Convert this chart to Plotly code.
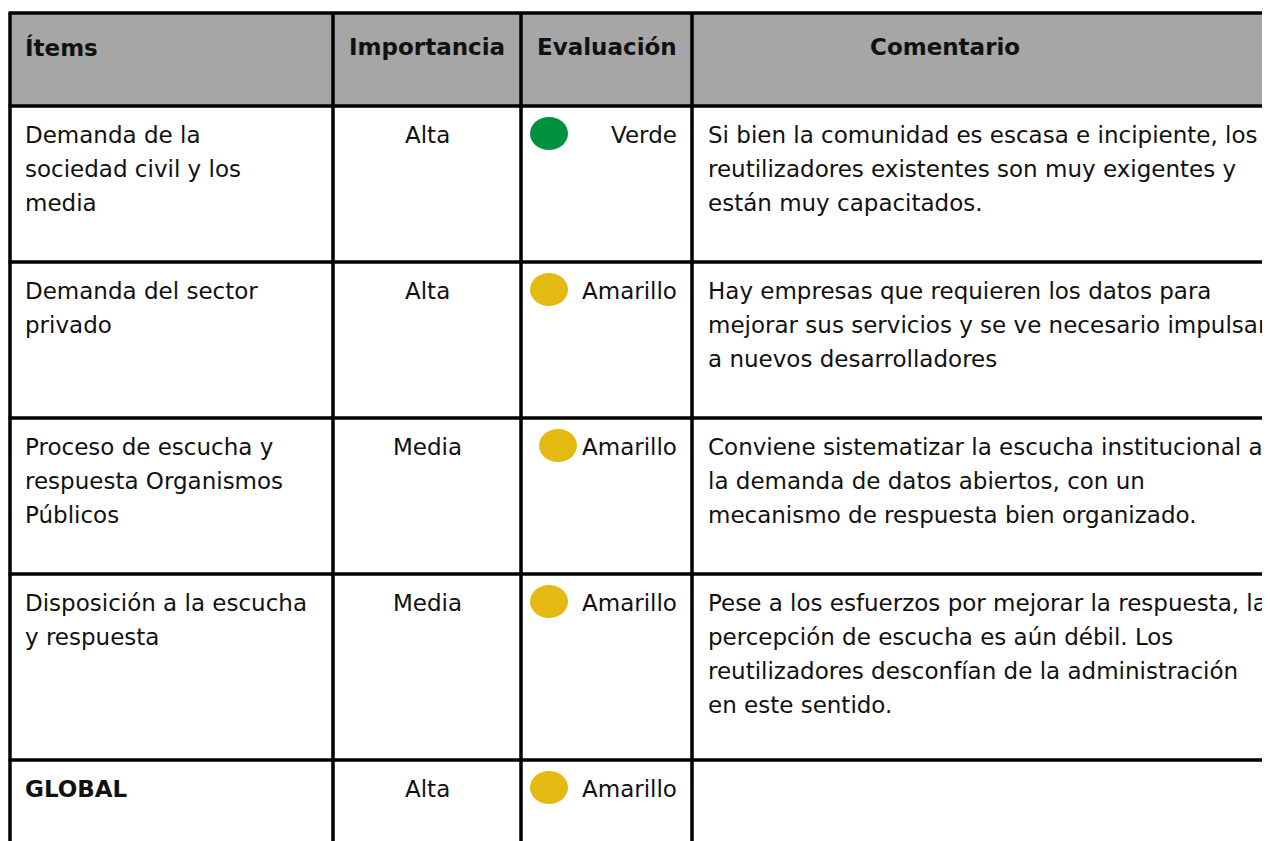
import plotly.graph_objects as go

# ---- data ----
headers = ["Ítems", "Importancia", "Evaluación", "Comentario"]
items = [
    ["Demanda de la", "sociedad civil y los", "media"],
    ["Demanda del sector", "privado"],
    ["Proceso de escucha y", "respuesta Organismos", "Públicos"],
    ["Disposición a la escucha", "y respuesta"],
    ["GLOBAL"],
]
importancia = ["Alta", "Alta", "Media", "Media", "Alta"]
evaluacion = ["Verde", "Amarillo", "Amarillo", "Amarillo", "Amarillo"]
comentarios = [
    ["Si bien la comunidad es escasa e incipiente, los",
     "reutilizadores existentes son muy exigentes y",
     "están muy capacitados."],
    ["Hay empresas que requieren los datos para",
     "mejorar sus servicios y se ve necesario impulsar",
     "a nuevos desarrolladores"],
    ["Conviene sistematizar la escucha institucional a",
     "la demanda de datos abiertos, con un",
     "mecanismo de respuesta bien organizado."],
    ["Pese a los esfuerzos por mejorar la respuesta, la",
     "percepción de escucha es aún débil. Los",
     "reutilizadores desconfían de la administración",
     "en este sentido."],
    [],
]
eval_colors = {"Verde": "#00913F", "Amarillo": "#E4BA12"}

# ---- layout geometry ----
W, H = 1270, 841
OFF = 8  # page body margin compensation
col_edges = [10, 333, 521, 692, 1290]
row_edges = [13, 106, 262, 418, 574, 760, 900]
oval_dx = [0, 0, 9, 0, 0]
FONT = "DejaVu Sans"
FS = 23
LINE = 34
TXT = "#111111"

fig = go.Figure()
fig.add_trace(go.Scatter(x=[OFF, W], y=[OFF, H], mode="markers",
                         marker=dict(opacity=0), hoverinfo="skip", showlegend=False))

shapes = []
shapes.append(dict(type="rect", xref="x", yref="y", x0=col_edges[0], x1=col_edges[-1],
                   y0=row_edges[0], y1=row_edges[1], fillcolor="#A6A6A6",
                   line=dict(width=0), layer="below"))
for y in row_edges[:-1]:
    shapes.append(dict(type="line", xref="x", yref="y", x0=col_edges[0] - 1.5,
                       x1=col_edges[-1], y0=y, y1=y, line=dict(color="black", width=3.5)))
for x in col_edges[:-1]:
    shapes.append(dict(type="line", xref="x", yref="y", x0=x, x1=x,
                       y0=row_edges[0], y1=row_edges[-1], line=dict(color="black", width=3.5)))

annotations = []
def txt(x, y, s, anchor, bold=False):
    annotations.append(dict(x=x, y=y, xref="x", yref="y", text=(f"<b>{s}</b>" if bold else s),
                            showarrow=False, xanchor=anchor, yanchor="middle",
                            font=dict(family=FONT, size=FS, color=TXT)))

hy = row_edges[0] + 34
txt(col_edges[0] + 13, hy, headers[0], "left", True)
txt((col_edges[1] + col_edges[2]) / 2, hy, headers[1], "center", True)
txt((col_edges[2] + col_edges[3]) / 2, hy, headers[2], "center", True)
txt(945, hy, headers[3], "center", True)

for r in range(len(items)):
    top = row_edges[r + 1]
    y0 = top + 29
    bold = items[r][0] == "GLOBAL"
    for k, line in enumerate(items[r]):
        txt(col_edges[0] + 13, y0 + k * LINE, line, "left", bold)
    txt((col_edges[1] + col_edges[2]) / 2, y0, importancia[r], "center")
    txt(col_edges[3] - 13, y0, evaluacion[r], "right")
    for k, line in enumerate(comentarios[r]):
        txt(col_edges[3] + 14, y0 + k * LINE, line, "left")
    ox = col_edges[2] + 9 + oval_dx[r]
    shapes.append(dict(type="circle", xref="x", yref="y", x0=ox, x1=ox + 38,
                       y0=top + 11, y1=top + 44, fillcolor=eval_colors[evaluacion[r]],
                       line=dict(width=0)))

fig.update_layout(
    width=W - OFF, height=H - OFF, margin=dict(l=0, r=0, t=0, b=0),
    paper_bgcolor="white", plot_bgcolor="white",
    xaxis=dict(range=[OFF, W], visible=False, fixedrange=True),
    yaxis=dict(range=[H, OFF], visible=False, fixedrange=True),
    shapes=shapes, annotations=annotations, showlegend=False,
)
fig.write_html("out.html")
